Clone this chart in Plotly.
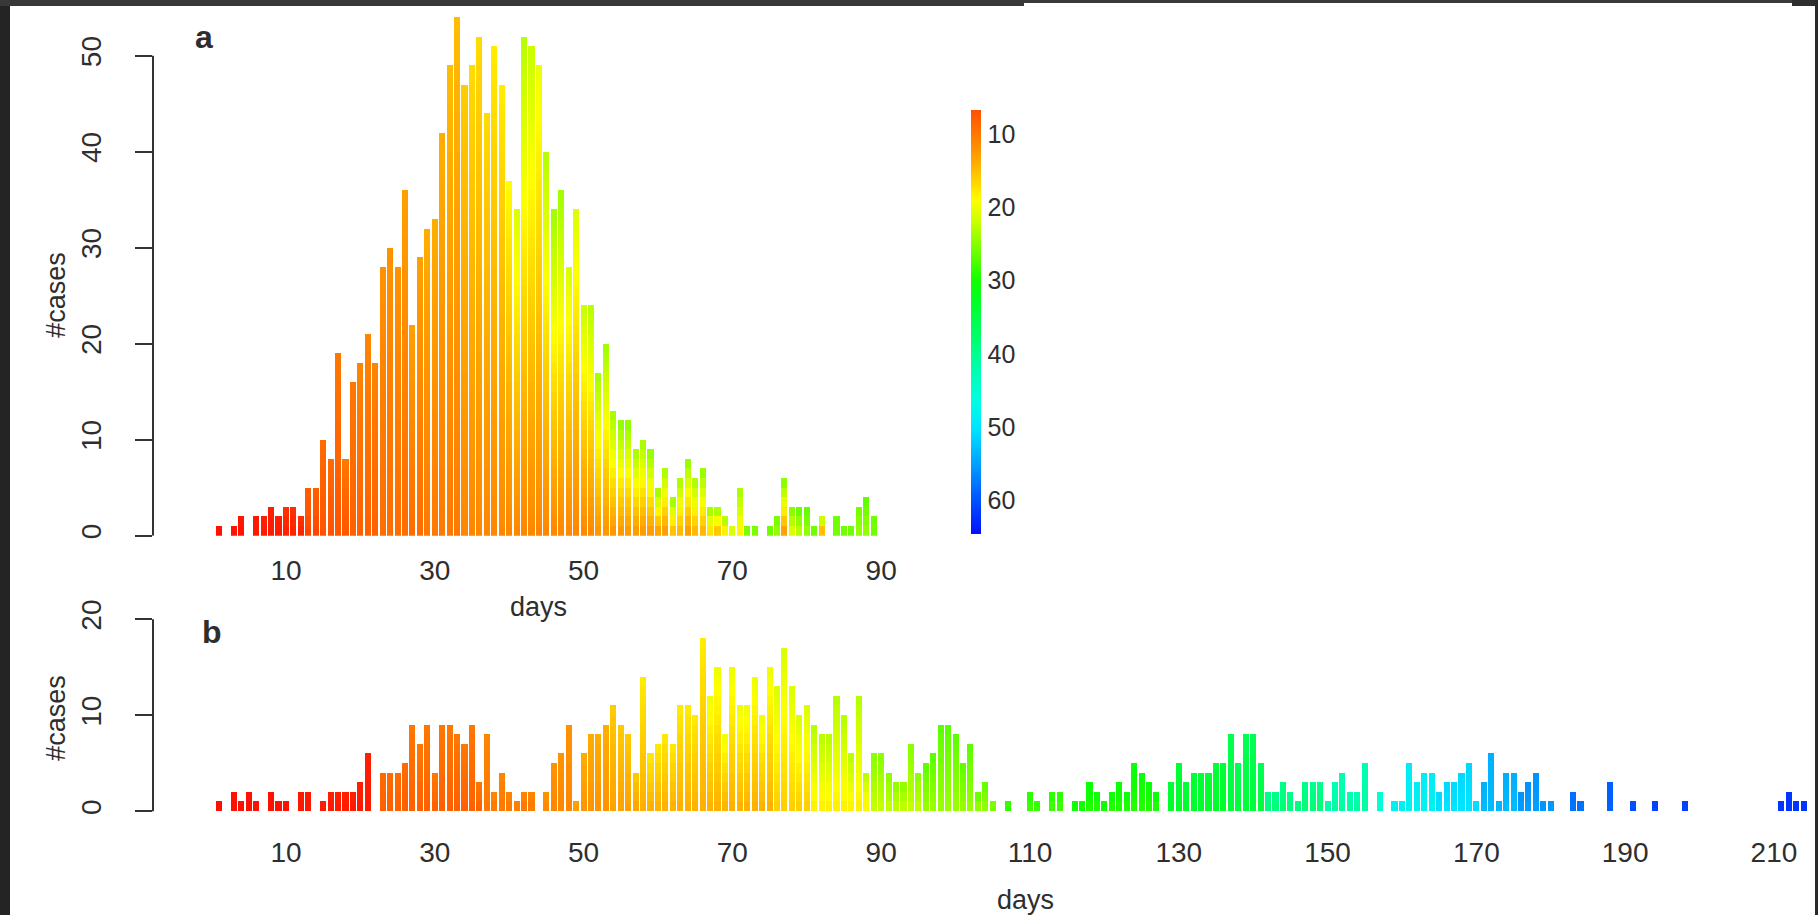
import plotly.graph_objects as go

W, H = 1818, 919

# ---------------- data ----------------
# panel a : cases per day, with the colour value at the bottom / top of each bar
days_a = [1, 3, 4, 6, 7, 8, 9, 10, 11, 12, 13, 14, 15, 16, 17, 18, 19, 20, 21, 22,
          23, 24, 25, 26, 27, 28, 29, 30, 31, 32, 33, 34, 35, 36, 37, 38, 39, 40, 41, 42,
          43, 44, 45, 46, 47, 48, 49, 50, 51, 52, 53, 54, 55, 56, 57, 58, 59, 60, 61, 62,
          63, 64, 65, 66, 67, 68, 69, 70, 71, 72, 73, 75, 76, 77, 78, 79, 80, 81, 82,
          84, 85, 86, 87, 88, 89]
cases_a = [1, 1, 2, 2, 2, 3, 2, 3, 3, 2, 5, 5, 10, 8, 19, 8, 16, 18, 21, 18,
           28, 30, 28, 36, 22, 29, 32, 33, 42, 49, 54, 47, 49, 52, 44, 51, 47, 37, 34, 52,
           51, 49, 40, 34, 36, 28, 34, 24, 24, 17, 20, 13, 12, 12, 9, 10, 9, 5, 7, 4,
           6, 8, 6, 7, 3, 3, 2, 1, 5, 1, 1, 1, 2, 6, 3, 3, 3, 1, 2,
           2, 1, 1, 3, 4, 2]
col_lo_a = [2, 2, 2, 3, 3, 3, 3, 4, 4, 4, 6, 6, 7, 7, 7, 7, 8, 8, 8, 8,
            9, 9, 9, 9, 9, 9, 10, 10, 10, 10, 10, 11, 11, 11, 11, 11, 11, 11, 11, 11,
            11, 11, 11, 11, 11, 11, 11, 11, 11, 12, 12, 12, 12, 12, 12, 12, 12, 12, 12, 14,
            14, 12, 14, 14, 16, 14, 16, 20, 18, 25, 25, 26, 24, 12, 20, 22, 24, 26, 12,
            26, 26, 26, 24, 24, 26]
col_hi_a = [2, 3, 3, 3, 4, 4, 4, 5, 5, 5, 8, 8, 9, 9, 10, 10, 10, 11, 11, 11,
            12, 12, 12, 13, 13, 13, 14, 14, 14, 15, 15, 16, 17, 17, 17, 18, 18, 19, 21, 23,
            22, 20, 23, 24, 24, 21, 21, 22, 23, 24, 24, 24, 25, 25, 24, 24, 25, 25, 24, 25,
            24, 25, 24, 25, 25, 25, 25, 22, 24, 26, 26, 26, 26, 26, 26, 27, 27, 26, 25,
            26, 26, 26, 26, 27, 26]

# panel b : cases per day
days_b = [1, 3, 4, 5, 6, 8, 9, 10, 12, 13, 15, 16, 17, 18, 19, 20, 21,
          23, 24, 25, 26, 27, 28, 29, 30, 31, 32, 33, 34, 35, 36, 37, 38, 39, 40, 41, 42, 43,
          45, 46, 47, 48, 49, 50, 51, 52, 53, 54, 55, 56, 57, 58, 59, 60, 61, 62, 63, 64,
          65, 66, 67, 68, 69, 70, 71, 72, 73, 74, 75, 76, 77, 78, 79, 80, 81, 82, 83, 84,
          85, 86, 87, 88, 89, 90, 91, 92, 93, 94, 95, 96, 97, 98, 99, 100, 101, 102, 103,
          104, 105, 107, 110, 111, 113, 114, 116, 117, 118, 119, 120, 121, 122, 123, 124,
          125, 126, 127, 129, 130, 131, 132, 133, 134, 135, 136, 137, 138, 139, 140, 141,
          142, 143, 144, 145, 146, 147, 148, 149, 150, 151, 152, 153, 154, 155, 157,
          159, 160, 161, 162, 163, 164, 165, 166, 167, 168, 169, 170, 171, 172, 173, 174,
          175, 176, 177, 178, 179, 180, 183, 184, 188, 191, 194, 198, 211, 212, 213, 214]
cases_b = [1, 2, 1, 2, 1, 2, 1, 1, 2, 2, 1, 2, 2, 2, 2, 3, 6,
           4, 4, 4, 5, 9, 7, 9, 4, 9, 9, 8, 7, 9, 3, 8, 2, 4, 2, 1, 2, 2,
           2, 5, 6, 9, 1, 6, 8, 8, 9, 11, 9, 8, 4, 14, 6, 7, 8, 7, 11, 11,
           10, 18, 12, 15, 8, 15, 11, 11, 14, 10, 15, 13, 17, 13, 10, 11, 9, 8, 8, 12,
           10, 6, 12, 4, 6, 6, 4, 3, 3, 7, 4, 5, 6, 9, 9, 8, 5, 7, 2,
           3, 1, 1, 2, 1, 2, 2, 1, 1, 3, 2, 1, 2, 3, 2, 5,
           4, 3, 2, 3, 5, 3, 4, 4, 4, 5, 5, 8, 5, 8, 8, 5,
           2, 2, 3, 2, 1, 3, 3, 3, 1, 3, 4, 2, 2, 5, 2,
           1, 1, 5, 3, 4, 4, 2, 3, 3, 4, 5, 1, 3, 6, 1, 4,
           4, 2, 3, 4, 1, 1, 2, 1, 3, 1, 1, 1, 1, 2, 1, 1]
# colour values of panel b, per run of days: (first day, last day, bottom value, top value)
col_runs_b = [(1, 10, 2, 2), (12, 13, 3, 3), (15, 21, 3, 4), (23, 26, 8, 9),
              (27, 36, 8, 10), (37, 43, 10, 11), (45, 48, 11, 12), (49, 53, 12, 14),
              (54, 57, 13, 16), (58, 66, 14, 18), (67, 75, 14, 20), (76, 80, 16, 21),
              (81, 88, 18, 23), (89, 95, 22, 25), (96, 105, 24, 27), (107, 114, 28, 29),
              (116, 127, 29, 31), (129, 136, 33, 34), (137, 141, 34, 36), (142, 149, 38, 40),
              (150, 155, 41, 43), (157, 157, 45, 45), (159, 164, 48, 49), (165, 170, 50, 51),
              (171, 175, 53, 54), (176, 180, 55, 56), (183, 184, 58, 58), (188, 188, 59, 59),
              (191, 191, 60, 60), (194, 198, 61, 61), (211, 214, 62, 62)]

ticks_a_x = [10, 30, 50, 70, 90]
ticks_b_x = [10, 30, 50, 70, 90, 110, 130, 150, 170, 190, 210]
ticks_a_y = [0, 10, 20, 30, 40, 50]
ticks_b_y = [0, 10, 20]
cbar_ticks = [10, 20, 30, 40, 50, 60]
CB_TOP, CB_BOTTOM = 6.7, 64.5

# rainbow colour scale (value -> colour)
COLOR_STOPS = [(0, '#ff0000'), (4, '#ff2000'), (6.7, '#ff5000'), (10, '#ff7800'),
               (14, '#ffae00'), (17, '#ffdc00'), (19, '#ffff00'), (22, '#c8ff00'),
               (26, '#70ff00'), (30, '#10ff00'), (33, '#00ff28'), (40, '#00ff90'),
               (46, '#00ffe0'), (50, '#00e6ff'), (55, '#00a0ff'), (60, '#0050ff'),
               (64.5, '#0010ff')]


def hex2rgb(h):
    h = h.lstrip('#')
    return tuple(int(h[i:i + 2], 16) for i in (0, 2, 4))


def val2rgb(v):
    if v <= COLOR_STOPS[0][0]:
        c = hex2rgb(COLOR_STOPS[0][1])
    elif v >= COLOR_STOPS[-1][0]:
        c = hex2rgb(COLOR_STOPS[-1][1])
    else:
        for (v0, h0), (v1, h1) in zip(COLOR_STOPS[:-1], COLOR_STOPS[1:]):
            if v0 <= v <= v1:
                t = (v - v0) / (v1 - v0)
                c0, c1 = hex2rgb(h0), hex2rgb(h1)
                c = tuple(a + (b - a) * t for a, b in zip(c0, c1))
                break
    return 'rgb(%d,%d,%d)' % tuple(round(x) for x in c)


def runs_lookup(runs, day):
    for d0, d1, lo, hi in runs:
        if d0 <= day <= d1:
            return lo, hi
    return runs[-1][2], runs[-1][3]


def segments(days, cases, lo, hi):
    xs, bases, cols = [], [], []
    for d, n, a, b in zip(days, cases, lo, hi):
        for k in range(n):
            xs.append(d)
            bases.append(k)
            cols.append(val2rgb(a + (b - a) * (k + 0.5) / n))
    return xs, bases, cols


col_lo_b = [runs_lookup(col_runs_b, d)[0] for d in days_b]
col_hi_b = [runs_lookup(col_runs_b, d)[1] for d in days_b]

# ---------------- layout geometry (pixels) ----------------
AX_X = 153            # y-axis line
DAY1_PX = 219         # centre of day 1
PX_PER_DAY = 7.44
A_TOP, A_BASE, A_PXU = 3, 538, 9.64
B_TOP, B_BASE, B_PXU = 600, 815, 9.65


def px(x):
    return x / W


def py(y):
    return 1 - y / H


def day_at(p):
    return 1 + (p - DAY1_PX) / PX_PER_DAY


FONT = 'Liberation Sans, Arial, Helvetica, sans-serif'
TXT = '#2e2e2e'

fig = go.Figure()

xa, ba, ca = segments(days_a, cases_a, col_lo_a, col_hi_a)
fig.add_trace(go.Bar(x=xa, y=[1] * len(xa), base=ba, width=0.82,
                     marker=dict(color=ca, line=dict(width=0)),
                     xaxis='x', yaxis='y', showlegend=False, hoverinfo='skip'))
xb, bb, cb = segments(days_b, cases_b, col_lo_b, col_hi_b)
fig.add_trace(go.Bar(x=xb, y=[1] * len(xb), base=bb, width=0.82,
                     marker=dict(color=cb, line=dict(width=0)),
                     xaxis='x2', yaxis='y2', showlegend=False, hoverinfo='skip'))

# colour bar (10 at top, 60 at bottom -> negated values)
ns = 60
cscale = []
for i in range(ns + 1):
    t = i / ns
    v = CB_BOTTOM - t * (CB_BOTTOM - CB_TOP)
    cscale.append([t, val2rgb(v)])
fig.add_trace(go.Scatter(
    x=[days_a[0]], y=[0], mode='markers', xaxis='x', yaxis='y', showlegend=False,
    hoverinfo='skip',
    marker=dict(size=1, opacity=0, color=[-30], colorscale=cscale,
                cmin=-CB_BOTTOM, cmax=-CB_TOP, showscale=True,
                colorbar=dict(x=px(971), xanchor='left', y=py(536), yanchor='bottom',
                              len=(536 - 110) / H, lenmode='fraction',
                              thickness=10, thicknessmode='pixels', outlinewidth=0,
                              xpad=0, ypad=0,
                              tickvals=[-v for v in cbar_ticks],
                              ticktext=[str(v) for v in cbar_ticks],
                              ticks='outside', ticklen=2, tickcolor='rgba(0,0,0,0)',
                              tickfont=dict(family=FONT, size=25, color=TXT)))))

common_y = dict(showgrid=False, zeroline=False, showline=False, ticks='outside',
                ticklen=17, tickwidth=2, tickcolor='#333', tickangle=-90,
                tickfont=dict(family=FONT, size=28, color=TXT), ticklabelstandoff=23,
                fixedrange=True)
common_x = dict(showgrid=False, zeroline=False, showline=False, ticks='',
                tickfont=dict(family=FONT, size=28, color=TXT),
                fixedrange=True, tickmode='array')

fig.update_layout(
    width=W, height=H, margin=dict(l=0, r=0, t=0, b=0),
    paper_bgcolor='white', plot_bgcolor='white', barmode='overlay', bargap=0,
    hovermode=False,
    xaxis=dict(domain=[px(AX_X), px(960)], range=[day_at(AX_X), day_at(960)],
               anchor='y', tickvals=ticks_a_x, ticklabelstandoff=15, **common_x),
    yaxis=dict(domain=[py(A_BASE), py(A_TOP)], range=[0, (A_BASE - A_TOP) / A_PXU],
               anchor='x', tickmode='array', tickvals=ticks_a_y, **common_y),
    xaxis2=dict(domain=[px(AX_X), px(1814)], range=[day_at(AX_X), day_at(1814)],
                anchor='y2', tickvals=ticks_b_x, ticklabelstandoff=22, **common_x),
    yaxis2=dict(domain=[py(B_BASE), py(B_TOP)], range=[0, (B_BASE - B_TOP) / B_PXU],
                anchor='x2', tickmode='array', tickvals=ticks_b_y, **common_y),
)

shapes = [
    dict(type='line', xref='paper', yref='y', x0=px(AX_X), x1=px(AX_X),
         y0=ticks_a_y[0], y1=ticks_a_y[-1], line=dict(color='#333', width=2)),
    dict(type='line', xref='paper', yref='y2', x0=px(AX_X), x1=px(AX_X),
         y0=ticks_b_y[0], y1=ticks_b_y[-1], line=dict(color='#333', width=2)),
]
# dark photo frame
for x0, x1, y0, y1, c in [(0, 10, 0, H, '#242424'), (0, 1024, 0, 6, '#383838'),
                          (1024, 1792, 0, 3, '#3a3a3a'), (1792, W, 0, 6, '#2e2e2e'),
                          (1815, W, 0, H, '#2a2a2a')]:
    shapes.append(dict(type='rect', xref='paper', yref='paper', x0=px(x0), x1=px(x1),
                       y0=py(y1), y1=py(y0), fillcolor=c, line=dict(width=0),
                       layer='above'))
fig.update_layout(shapes=shapes)

ann = [
    dict(text='<b>a</b>', x=px(204), y=py(37), size=32),
    dict(text='<b>b</b>', x=px(212), y=py(635), size=32),
    dict(text='#cases', x=px(56), y=py(296), size=27, angle=-90),
    dict(text='#cases', x=px(56), y=py(721), size=27, angle=-90),
    dict(text='days', x=px(538), y=py(610), size=27),
    dict(text='days', x=px(1025), y=py(904), size=27),
]
fig.update_layout(annotations=[
    dict(text=a['text'], x=a['x'], y=a['y'], xref='paper', yref='paper',
         xanchor='center', yanchor='middle', showarrow=False,
         textangle=a.get('angle', 0), font=dict(family=FONT, size=a['size'], color=TXT))
    for a in ann])

fig.write_html('out.html', config={'displayModeBar': False})
